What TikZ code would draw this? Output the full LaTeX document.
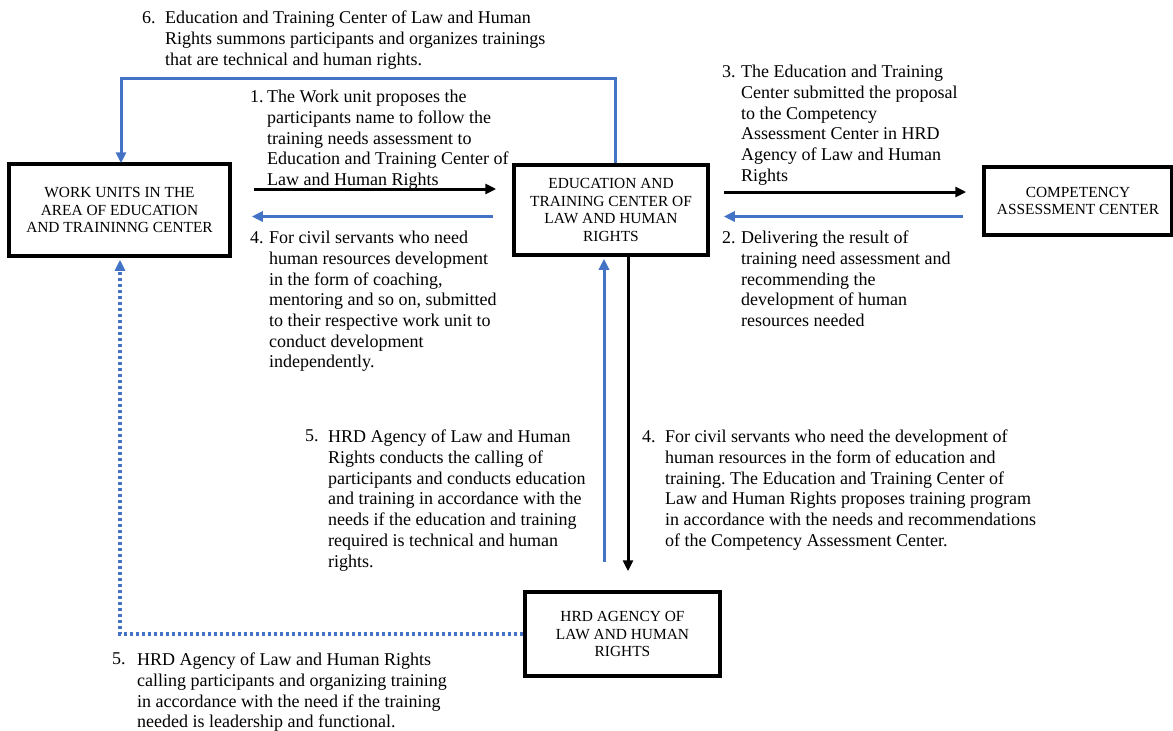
\documentclass[tikz,border=0pt]{standalone}
\usepackage{fontspec}
\setmainfont{Liberation Serif}
\usetikzlibrary{arrows.meta,calc}
\definecolor{wblue}{RGB}{68,114,196}
\frenchspacing
\begin{document}
\begin{tikzpicture}[x=1pt,y=1pt,
  box/.style={draw=black,line width=3.5pt,align=center,inner sep=0pt,font=\fontsize{15.4}{17.9}\selectfont},
  lbl/.style={anchor=north west,inner sep=0pt,align=left,font=\fontsize{18}{20.7}\selectfont},
  num/.style={anchor=north west,inner sep=0pt,font=\fontsize{18}{20.7}\selectfont},
  tip/.style={-{Triangle[length=11pt,width=10pt]}},
  blk/.style={draw=black,line width=3pt,tip},
  blu/.style={draw=wblue,line width=3pt,tip},
  dots/.style={draw=wblue,line width=3.5pt,dash pattern=on 3.5pt off 2.5pt,tip}]
\useasboundingbox (0,0) rectangle (1173,-731);

% boxes
\node[box,minimum width=221pt,minimum height=92pt] (work) at (119.5,-210)
  {WORK UNITS IN THE\\AREA OF EDUCATION\\AND TRAININNG CENTER};
\node[box,minimum width=194pt,minimum height=90pt] (edu) at (611,-210)
  {EDUCATION AND\\TRAINING CENTER OF\\LAW AND HUMAN\\RIGHTS};
\node[box,minimum width=188pt,minimum height=68pt] (comp) at (1078,-201)
  {COMPETENCY\\ASSESSMENT CENTER};
\node[box,minimum width=195pt,minimum height=84pt] (hrd) at (622.5,-634)
  {HRD AGENCY OF\\LAW AND HUMAN\\RIGHTS};

% labels
\node[num] (n6) at (142,-11) {6.};
\node[lbl] (t6) at (165,-11) {Education and Training Center of Law and Human\\Rights summons participants and organizes trainings\\that are technical and human rights.};

\node[num] (n1) at (250,-90) {1.};
\node[lbl] (t1) at (267,-90) {The Work unit proposes the\\participants name to follow the\\training needs assessment to\\Education and Training Center of\\Law and Human Rights};

\node[num] (n3) at (722,-65) {3.};
\node[lbl] (t3) at (741,-65) {The Education and Training\\Center submitted the proposal\\to the Competency\\Assessment Center in HRD\\Agency of Law and Human\\Rights};

\node[num] (n2) at (722,-231) {2.};
\node[lbl] (t2) at (741,-231) {Delivering the result of\\training need assessment and\\recommending the\\development of human\\resources needed};

\node[num] (n4a) at (250,-231) {4.};
\node[lbl] (t4a) at (269,-231) {For civil servants who need\\human resources development\\in the form of coaching,\\mentoring and so on, submitted\\to their respective work unit to\\conduct development\\independently.};

\node[num] (n5a) at (305,-430) {5.};
\node[lbl] (t5a) at (328,-430) {HRD Agency of Law and Human\\Rights conducts the calling of\\participants and conducts education\\and training in accordance with the\\needs if the education and training\\required is technical and human\\rights.};

\node[num] (n4b) at (642,-430) {4.};
\node[lbl] (t4b) at (665,-430) {For civil servants who need the development of\\human resources in the form of education and\\training. The Education and Training Center of\\Law and Human Rights proposes training program\\in accordance with the needs and recommendations\\of the Competency Assessment Center.};

\node[num] (n5b) at (112,-653) {5.};
\node[lbl] (t5b) at (137,-653) {HRD Agency of Law and Human Rights\\calling participants and organizing training\\in accordance with the need if the training\\needed is leadership and functional.};

% connector anchor points
\coordinate (a1s) at ($(work.east)+(22,21)$);
\coordinate (a1e) at ($(edu.west)+(-16,21)$);
\coordinate (a4s) at ($(edu.west)+(-19,-6.5)$);
\coordinate (a4e) at ($(work.east)+(20,-6.5)$);
\coordinate (a3s) at ($(edu.east)+(14,18)$);
\coordinate (a3e) at ($(comp.west)+(-16,0)$);
\coordinate (a2s) at ($(comp.west)+(-19,0)$);
\coordinate (a2e) at ($(edu.east)+(14,0)$);
\coordinate (topS) at ($(edu.north)+(4,0)$);
\coordinate (topW) at ($(work.north)+(1.5,-1)$);
\coordinate (upS) at ($(edu.south)+(-7,-305)$);
\coordinate (upE) at ($(edu.south)+(-7,-2)$);
\coordinate (dnS) at ($(edu.south)+(17,0)$);
\coordinate (dnE) at ($(hrd.north)+(0,19)$);
\coordinate (dotE) at ($(work.south)+(0.5,-2)$);

% connectors
\draw[blu] (topS) -- ++(0,85) -| (topW);
\draw[blk] (a1s) -- (a1e);
\draw[blu] (a4s) -- (a4e);
\draw[blk] (a3s) -- (a3e |- a3s);
\draw[blu] (a2s |- a4s) -- (a2e |- a4s);
\draw[blu] (upS) -- (upE);
\draw[blk] (dnS) -- (dnS |- dnE);
\draw[dots] (hrd.west) -| (dotE);
\end{tikzpicture}
\end{document}
